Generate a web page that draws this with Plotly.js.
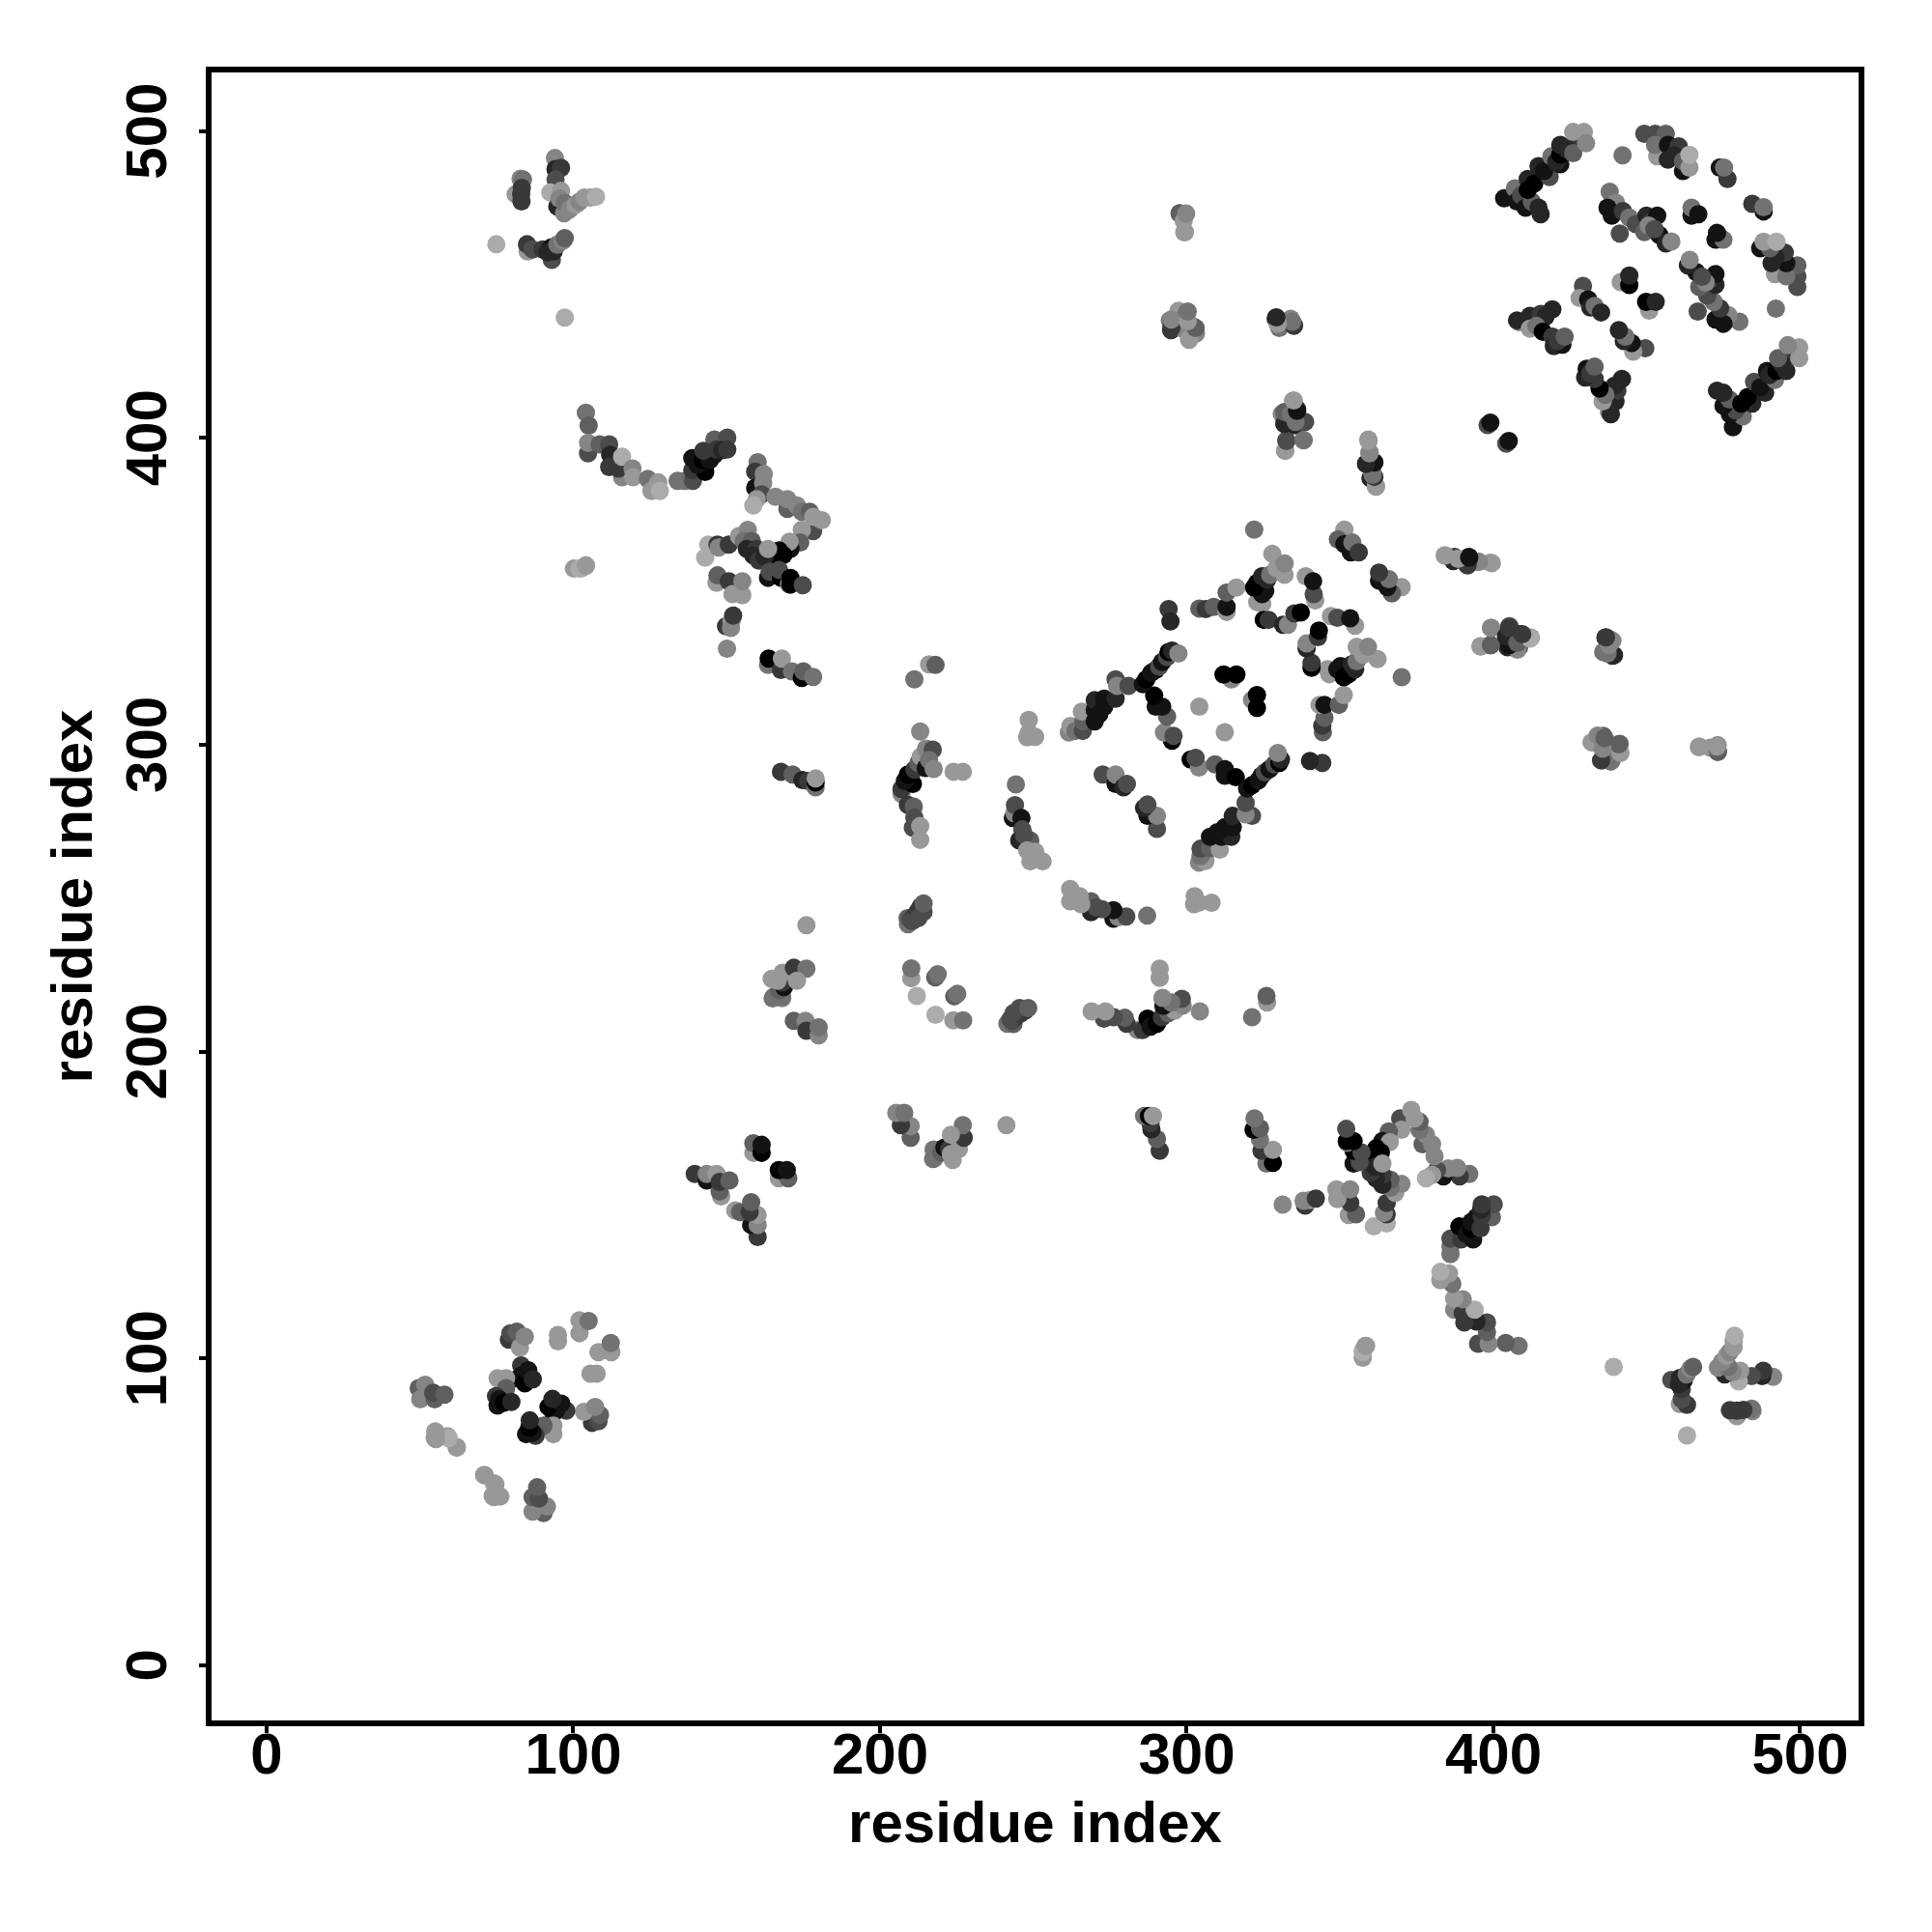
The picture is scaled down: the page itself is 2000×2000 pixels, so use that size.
<!DOCTYPE html>
<html><head><meta charset="utf-8">
<script src="https://cdn.plot.ly/plotly-3.0.1.min.js"></script>
<style>html,body{margin:0;padding:0;background:#fff}</style></head>
<body><div id="chart" style="width:2000px;height:2000px"></div>
<script>
// Contacts as [residue i, residue j, score]; each is drawn at (i,j) and (j,i).
const clusterA=[[82.8,484.5,7],[83.6,484.2,6],[81.2,479.4,8],[83,479.4,3],[83.1,477.1,3],[83.2,481.5,3],[94,491.2,7],[94.2,487.6,2],[96,488,3],[94.2,484.2,4],[92.5,480,9],[94.8,475.4,2],[97,473.2,7],[96,480.5,8],[95.5,478,7],[97.2,476.6,6],[98.8,474.5,7],[100.8,476,8],[102,477,7],[103.6,478.3,8],[105.6,478.3,8],[107.4,478.6,9]];
const clusterA2=[[74.9,463.1,9],[85.1,460.8,8],[84.9,463.1,3],[86.7,461.4,4],[90,461.4,3],[93,458,4],[92.7,462,1],[93.6,460.8,2],[91.6,460.5,2],[94.8,463,6],[96.6,464.2,7],[97.2,465.1,5],[97.2,439.2,9]];
const arcB=[[104.1,408.2,6],[105,404,5],[104.8,395,4],[104.8,398.4,7],[108.6,397.9,5],[111.7,397.9,4],[112,394.5,2],[111.7,390.5,3],[115.9,387.2,7],[114.7,390,3],[115.9,393.9,9],[119.3,390,7],[119.5,387.2,8],[124.3,386.6,6],[125.5,382.7,8],[127.7,385.5,8],[128.2,382.7,9],[134,386,6],[136.4,386,6],[139,386,4],[138.8,389.5,3],[138.8,393.4,1],[143,388.9,0],[140.5,391.2,1],[142.2,392.8,0],[146,394.5,1],[144.5,392.8,1],[146,399.5,5],[142.4,395.8,3],[146.6,396.2,3],[150.2,400.1,4],[148.5,396,2],[150.2,396.2,3]];
const lightPatch=[[100.2,357.4,8],[102.6,357.5,8],[102,357.4,9],[104.1,358.5,9],[104.1,358.3,8]];
const clusterC1=[[160.1,392.1,6],[159.3,389,3],[159.3,383.7,1],[162.1,388.2,7],[161.9,385.3,7],[161.4,381.6,4],[159.8,380,8],[158.7,378,9],[165.9,380.8,7],[169.8,376.9,5],[169.8,380,7],[172.9,378,7],[174.5,375.9,6],[177.1,375.9,5],[178.2,369.6,4],[178.2,374.3,8],[181,373.2,8],[174.5,370,8],[174,365.9,5],[170.8,363.8,1],[170.5,366.2,8],[167.1,363.3,0],[166,361.5,0],[168.5,361.8,0]];
const clusterC2=[[143,361,9],[144,365.2,9],[147,365.2,3],[147.4,364.3,7],[150.7,365.2,3],[154,368,8],[156.9,370,7],[155.6,366.4,6],[158.2,366.4,5],[156.6,363.8,2],[159.8,363.8,3],[158.7,361.7,2],[160.5,360,3],[162.4,361.2,2],[163.5,363.8,8]];
const clusterC3=[[163.5,354.4,1],[164,356.4,4],[166,356,4],[167.7,354.4,0],[167.1,357,4],[170.3,352.3,7],[170.8,354.4,0],[170.8,352.2,0],[174.8,352,4]];
const clusterC4=[[146.7,352.8,8],[147,355.2,5],[150.7,353.3,3],[151.9,349.1,8],[155.1,348.8,8],[155.1,353.3,7],[149.8,338.6,3],[151.6,340.2,8],[151.4,338.1,7],[152.1,342.1,3],[150.1,331.3,7]];
const strip325=[[163.5,326,6],[163.7,328.1,0],[167.7,324.4,3],[168,328.1,8],[171.3,323.9,6],[174.5,321.8,0],[175,323.9,5],[178.2,322.1,6]];
const strip290=[[167.7,291.2,3],[171.5,290.3,5],[174.7,288.5,2],[176.6,288.2,3],[179,286.1,6],[179,287.7,0],[179,289,8]];
const cluster210=[[207,284,7],[207,285.6,3],[210.7,287.2,0],[208.1,288.2,1],[209.1,290.3,0],[211.2,291.9,3],[212.5,294,5],[213.3,296.1,8],[214.9,292.4,1],[213.1,304.3,7],[215,298.7,7],[217.2,298.4,4],[216,295,6],[217.5,292.1,7],[224,291.2,8],[227,291.2,8],[209.1,280.4,3],[211,279.8,5],[211.2,276.2,4],[210.7,273,4],[213.1,273.5,8],[213.1,269,8],[211.2,321.3,6],[216,326.2,8],[218.1,326,5]];
const lightTrio=[[248.5,308.1,8],[248,302.4,8],[248.5,303.9,8],[250.6,302.6,8]];
const strip245=[[244.3,287.1,6],[243.3,276.1,1],[243.8,277.7,7],[244,280.3,4],[246.1,276.1,1],[246.4,272.4,4],[245.4,268.8,2],[249,268.8,5],[247,270.5,4],[248,265.6,8],[249,262,8],[250.6,265.1,8],[253,262,8]];
const cluster210b=[[209.1,241.5,6],[209,243.5,5],[210,243.1,4],[211.2,244.1,3],[210.5,242.5,4],[212.3,245.7,3],[213.3,247.3,3],[212.5,243.5,4],[214.2,245.5,4],[214.2,248.3,5]];
const cluster170=[[176,241.2,8],[165.3,217.9,7],[168.1,217.4,7],[165,217.3,6],[168,217.9,6],[167.1,220,5],[168.7,221,1],[168.2,222.6,3],[166.6,223.1,8],[164.7,223.7,8],[168.2,225.7,8],[171.9,227.3,3],[176,227,6],[172.9,223.1,8],[171.9,210,5],[175.7,210,7],[176,206.8,3],[180,205.3,7],[180,207.9,6]];
const cluster215=[[210.2,223.9,8],[210.2,227.1,6],[218,224.2,5],[218.8,225.2,6],[212,218.1,9]];
const ringLeft=[[261.6,304,7],[262.1,306.1,8],[263.7,304.5,6],[266.1,304.5,4],[266.3,307.6,5],[265.8,310.8,8],[270,307.6,1],[270,311.3,1],[270,314.5,2],[273.1,312.4,1],[271.5,310,1],[273.1,315,1],[276.8,315,2],[276.8,321.3,4],[277.3,319.2,7],[281,319.2,4]];
const ringInner=[[272.6,290.3,4],[276.8,287.2,1],[276.8,290.3,7],[279.4,286.1,2],[280.5,287.2,4]];
const ringMid=[[295.2,301.3,0],[292.6,304,7],[295.7,302.9,4],[293.6,309.2,5],[289.9,312.4,1],[292,312.4,1],[289.4,316,0],[285.7,319.7,1],[286.8,321.3,0],[288.4,323.4,1],[289.9,324.4,1],[291,325.5,4],[292,327,1],[293.6,328.6,4],[294.1,330.2,0],[295.2,330.7,2],[297.3,329.7,7]];
const ringTop=[[294.1,344.2,3],[294.7,340.2,2],[304.1,344.4,5],[306.2,344.2,3],[308.8,344.9,5],[313,343.3,8],[313,344.9,1],[313,349.6,5],[316.2,351.2,8],[322,370.1,6]];
const ringDots=[[304.1,312.4,8],[314.6,321.3,7],[312,322.9,0],[316.2,322.9,0]];
const ringRight=[[323,346.5,8],[324.6,345.9,8],[324.6,349.1,1],[325.6,350.1,1],[322,351.2,0],[323,352.8,0],[324.6,354.9,2],[326.2,353.8,2],[327.2,355.4,6],[327.9,362.2,8],[329.3,357.5,8],[331.9,355.4,8],[331.9,359.1,7],[325.1,340.7,0],[326.7,340.7,3],[331.4,339.1,2],[333,339.1,7],[335.1,342.8,3],[337.2,343.1,0],[338.8,354.9,8],[341.9,347,8],[341.4,349.1,4],[341.2,353.3,1]];
const strip350=[[351.4,370.1,8],[349.3,366.9,5],[351.4,365.4,1],[353.5,362.7,1],[354,365.9,6],[356.1,362.7,3]];
const cluster300=[[299.4,467.1,8],[297.7,473.2,5],[299.4,472.9,8],[294.5,438.3,6],[294.9,435.1,3],[297.3,441.4,8],[300.1,440.9,5],[300.8,432,8],[298.7,435.6,7],[303,434,7],[302.2,436.2,5]];
const cluster330=[[329,438.8,2],[329.7,437.2,6],[332.5,437.7,7],[333.9,438.8,7],[335,436.7,3]];
const cluster335=[[332.1,395.8,8],[332.5,399.2,5],[338.1,399.2,7],[331,407.8,7],[332.5,405.2,1],[335.3,404.1,2],[333.2,407.8,5],[334.6,412,9],[336,409.4,3],[338.1,405.2,3]];
const strip360=[[359.2,399.5,8],[359.6,395.3,7],[358.5,391.6,3],[359.9,386.9,2],[361.7,384.3,8],[360.6,388.5,8],[361,392.1,1]];
const pair400=[[398.1,404.2,4],[399,405,1]];
const strip390=[[384.1,361.7,8],[387.3,361.2,3],[388,360.6,6],[392,361.2,1],[391.5,358.5,2],[395,359.6,7],[399,359.3,8]];
const cluster405=[[395.8,332.1,8],[399,332.5,4],[399.3,338.1,6],[405.2,338.6,4],[404.6,331.8,2],[405.2,335.5,6],[408.4,331.8,5],[407.7,333.9,6],[408.8,336,1],[412.2,334.9,8]];
const cluster437=[[435.8,330.2,6],[436.5,334.9,3],[437.9,334.4,6],[437.2,329.7,8],[439.3,329.2,2]];
const cluster438=[[432.3,300.8,8],[435.8,302.9,5],[435.8,295,3],[438.6,295,7],[438,300.3,8],[441.2,300.3,6]];
const pair470=[[467,299.2,8],[473.1,297.7,5],[470.7,299,8],[473.1,299.8,7]];
const arcTopLeft=[[403.5,478.1,1],[407,481.3,6],[407.7,477.1,1],[409,479,4],[410.5,475,1],[412.5,477,5],[415.4,472.9,2],[414.7,475,2],[411.2,484.4,2],[411.2,480.8,0],[413.3,482.9,0],[418.3,485,4],[414.7,488.6,2],[416.5,487,1],[418.9,491.8,6],[421.8,489.2,1],[420.5,490,2],[421.8,492.3,0],[421.8,495.5,2],[426,495.5,3],[424,494,2],[426,492.8,5],[426,499.7,8],[429.5,499.7,8],[430.2,496,7],[442.1,492.1,6]];
const arcTopRight=[[449.2,499.1,4],[452.7,499.1,4],[456.2,499.1,5],[453.4,491.8,8],[452.7,495.5,6],[456.9,495.5,1],[456.9,490.7,2],[460.4,495,3],[459,492,2],[461.8,487,1],[461.8,490.2,5],[463.9,488.1,8],[463.9,492.3,9],[473.8,488.1,1],[476.3,484.4,3],[475.2,488.1,6]];
const innerUpper=[[437.9,480.2,6],[440,476.6,7],[437.2,475,1],[438.6,472.4,1],[442.2,473.9,3],[444.3,471.8,6],[446.4,469.7,4],[441.2,466.6,4],[449.9,472.4,2],[451.5,470.5,3],[453.4,472.4,1],[449.2,467.1,5],[450.6,469.2,7],[454.1,466.1,1],[452.5,468,4],[456.2,463.4,2],[458,464,7],[464.6,472.4,1],[464.6,475,6],[466.8,472.9,1]];
const innerLower=[[429.2,449.5,4],[428.1,445.6,8],[430.9,445.1,1],[431.6,442.5,2],[433,443,6],[435.1,440.9,2],[441.5,450.8,8],[444.3,449.8,0],[444.3,452.9,2]];
const innerLeft=[[408.4,437.7,7],[407.7,438.3,2],[411.9,439.8,2],[415.4,440.4,3],[419.2,441.9,2],[417,439.5,2],[411.9,435.6,8],[414,436.5,6],[416.1,434.6,0],[419.2,433,3],[419.7,429.9,2],[422.5,430.4,1],[421,431.5,3],[423.2,433,5]];
const cluster150=[[139.6,160.1,3],[143.5,158,1],[143.5,160.1,7],[146.7,160.1,8],[148.2,152.8,8],[147.7,154.4,5],[147.7,157.5,3],[150.9,158,5],[158.7,167,8],[158.7,170.1,5],[161.4,167,0],[161.4,169.6,1]];
const diagLeft=[[49.6,90.3,5],[50.1,86.7,7],[51.7,91.4,7],[54.8,86.7,5],[54.3,88.8,4],[58,88.2,5],[55,76.2,8],[54.8,74.1,8],[59,74.6,8],[62,71.1,8],[70.9,62,8],[74,59.4,9],[73.7,55.2,8],[75.8,55.2,8]];
const diagTop=[[79,106.1,3],[79.5,108.2,4],[81.6,108.7,5],[82.6,103.5,8],[84.2,107.1,7],[95,105.6,8],[95,107.6,8],[102,108.2,8],[102,112.4,8],[105,112.2,6]];
const diagCross=[[83,97.7,3],[83.2,94.5,1],[82.1,93.5,1],[84.2,91.9,0],[85.3,96.1,1],[86.8,93.2,2],[75.3,93.5,8],[78.1,93.5,8],[78.1,90.3,5],[74.8,87.7,3],[75.3,84.6,1],[75.8,86.7,1],[77.4,85.6,0],[79.8,85.8,2]];

const contacts=[clusterA,clusterA2,arcB,lightPatch,clusterC1,clusterC2,clusterC3,clusterC4,strip325,strip290,cluster210,lightTrio,strip245,cluster210b,cluster170,cluster215,ringLeft,ringInner,ringMid,ringTop,ringDots,ringRight,strip350,cluster300,cluster330,cluster335,strip360,pair400,strip390,cluster405,cluster437,cluster438,pair470,arcTopLeft,arcTopRight,innerUpper,innerLower,innerLeft,cluster150,diagLeft,diagTop,diagCross].flat();
const tickValues=[0,100,200,300,400,500];

const xs=[],ys=[],scores=[];
for(const c of contacts){xs.push(c[0]);ys.push(c[1]);scores.push(c[2]);}
for(const c of contacts){xs.push(c[1]);ys.push(c[0]);scores.push(c[2]);}

const bold={family:'"Liberation Sans",Arial,Helvetica,sans-serif',size:60,color:'#000',weight:700};
function axis(range,angle,standoff,labelShift){return {
  range:range,autorange:false,tickmode:'array',tickvals:tickValues,ticktext:tickValues.map(String),
  ticks:'outside',ticklen:7,tickwidth:3.5,tickcolor:'#000',tickangle:angle,tickfont:bold,ticklabelstandoff:labelShift,
  showline:true,mirror:true,linewidth:6,linecolor:'#000',showgrid:false,zeroline:false,
  title:{text:'residue index',font:bold,standoff:standoff}};}
Plotly.newPlot('chart',[{
  type:'scatter',mode:'markers',x:xs,y:ys,hoverinfo:'skip',
  marker:{size:19,color:scores,cmin:0,cmax:9,showscale:false,
    colorscale:[[0,'rgb(0,0,0)'],[1,'rgb(171,171,171)']],line:{width:0}}
}],{
  width:2000,height:2000,showlegend:false,paper_bgcolor:'#fff',plot_bgcolor:'#fff',
  margin:{l:219,r:76,t:75,b:219},
  xaxis:axis([-17.95,519.06],0,19,-30),
  yaxis:axis([-18,519.1],-90,5,10)
},{displayModeBar:false,responsive:false}).then(function(){
  // Centre the rotated y tick labels on their ticks.
  document.querySelectorAll('.ytick text').forEach(function(t){
    t.setAttribute('transform','translate(0,9) '+(t.getAttribute('transform')||''));
  });
});
</script></body></html>
